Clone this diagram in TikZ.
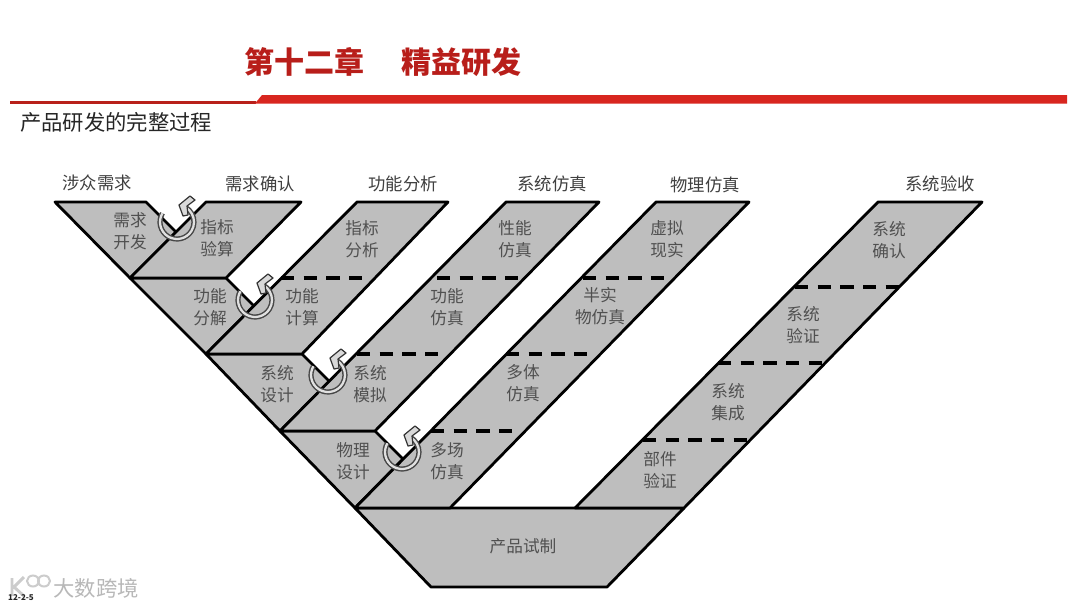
\documentclass[tikz,border=0pt]{standalone}
\usepackage{fontspec}
\setmainfont{Noto Sans CJK SC}
\usetikzlibrary{calc}
\definecolor{panelgray}{HTML}{BEBEBE}
\definecolor{labelgray}{HTML}{505050}
\definecolor{titlered}{HTML}{B81E1A}
\definecolor{rulered}{HTML}{D8261F}
\tikzset{
  panel/.style={fill=panelgray,draw=black,line width=2.1pt,line join=round},
  divider/.style={draw=black,line width=2.4pt,dash pattern=on 10pt off 7pt},
  inlabel/.style={text=labelgray,font=\fontsize{12.5}{16.5}\selectfont,align=center,inner sep=0pt},
  toplabel/.style={text=black!75,font=\fontsize{13}{16}\selectfont,inner sep=0pt},
  loopring/.pic={
    \draw[line width=3.9pt,black!72] (211:17) arc[start angle=211,end angle=-60,radius=17];
    \draw[line width=1.7pt,white!88!black] (211:17) arc[start angle=211,end angle=-60,radius=17];
    \draw[fill=white!85!black,draw=black!80,line width=.9pt,line join=round]
      (2,-17) -- (13,-26) -- (18,-22) -- (10,-16) -- (11,-7) -- (6,-6) -- cycle;
  }
}
\begin{document}
\begin{tikzpicture}[x=0.75pt,y=-0.75pt]
\useasboundingbox[fill=white] (0,0) rectangle (1080,608);
% header
\node[inner sep=0pt,text=titlered,font=\fontsize{22.5}{28}\selectfont\bfseries] (title) at (383,62) {第十二章\hspace{28.5pt}精益研发};
\fill[rulered!85!black] (10,101.2) rectangle (256,104);
\fill[rulered] (255,103.5) -- (262,95) -- (1067,95) -- (1067,103.5) -- cycle;
\node[inner sep=0pt,text=black!85,font=\fontsize{16}{20}\selectfont] (subtitle) at (116,122) {产品研发的完整过程};
% panels, back to front
\draw[panel] (355,508) -- (684,508) -- (607,587) -- (431,587) -- cycle;
\draw[panel] (55,202) -- (146,202) -- (176,232) -- (130,278) -- cycle;
\draw[panel] (130,278) -- (226,278) -- (254,306) -- (206,354) -- cycle;
\draw[panel] (206,354) -- (302,354) -- (329.5,381.5) -- (280,431) -- cycle;
\draw[panel] (280,431) -- (375,431) -- (403,459) -- (355,508) -- cycle;
\draw[panel] (130,278) -- (206,202) -- (301,202) -- (226,278) -- cycle;
\draw[panel] (206,354) -- (357,202) -- (448,202) -- (302,354) -- cycle;
\draw[panel] (280,431) -- (506,202) -- (599,202) -- (375,431) -- cycle;
\draw[panel] (355,508) -- (656,202) -- (749,202) -- (450,508) -- cycle;
\draw[panel] (575,508) -- (878,202) -- (982,202) -- (684,508) -- cycle;
% dividers
\foreach \a/\b/\y in {281/366/278, 437/524/278, 583/672/278, 357/443/354, 506/595/354, 431/520/431, 795/903/287, 718/822/363, 643/748/440}
  \draw[divider] (\a,\y) -- (\b,\y);
% loops
\path (177,222) pic {loopring};
\path (255,300) pic {loopring};
\path (328,375) pic {loopring};
\path (402,452) pic {loopring};
% top labels
\node[toplabel] (t1) at (97,183) {涉众需求};
\node[toplabel] (t2) at (260,184) {需求确认};
\node[toplabel] (t3) at (403,184) {功能分析};
\node[toplabel] (t4) at (552,184) {系统仿真};
\node[toplabel] (t5) at (705,185) {物理仿真};
\node[toplabel] (t6) at (940,184) {系统验收};
% panel labels
\node[inlabel] (a1) at (130,231) {需求\\开发};
\node[inlabel] (a2) at (217,238) {指标\\验算};
\node[inlabel] (a3) at (362,239) {指标\\分析};
\node[inlabel] (a4) at (515,239) {性能\\仿真};
\node[inlabel] (a5) at (667,239) {虚拟\\现实};
\node[inlabel] (a6) at (889,240) {系统\\确认};
\node[inlabel] (b1) at (210,307) {功能\\分解};
\node[inlabel] (b2) at (302,307) {功能\\计算};
\node[inlabel] (b3) at (447,307) {功能\\仿真};
\node[inlabel] (b4) at (600,306) {半实\\物仿真};
\node[inlabel] (b5) at (803,325) {系统\\验证};
\node[inlabel] (c1) at (277,384) {系统\\设计};
\node[inlabel] (c2) at (370,384) {系统\\模拟};
\node[inlabel] (c3) at (523,383) {多体\\仿真};
\node[inlabel] (c4) at (728,402) {系统\\集成};
\node[inlabel] (d1) at (353,461) {物理\\设计};
\node[inlabel] (d2) at (447,461) {多场\\仿真};
\node[inlabel] (d3) at (660,470) {部件\\验证};
\node[inlabel] (e1) at (523,546) {产品试制};
% watermark
\draw[white!80!black,line width=2.2pt] (12,578) -- (12,596) (24,577) -- (14,587) -- (24,596);
\draw[white!80!black,line width=1.5pt] (33,581) ellipse[x radius=6,y radius=5.5] (44,581) ellipse[x radius=6,y radius=5.5];
\node[inner sep=0pt,text=white!72!black,font=\fontsize{16}{18}\selectfont] (wm) at (96,588) {大数跨境};
\node[inner sep=0pt,text=black!85,font=\fontsize{6}{7}\selectfont\bfseries] (date) at (21,598) {12-2-5};
\end{tikzpicture}
\end{document}
